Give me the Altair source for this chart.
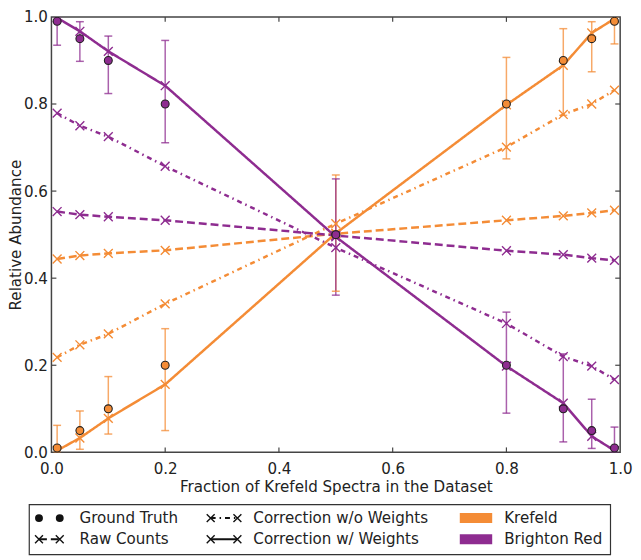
import altair as alt
import pandas as pd

# ---------------- data ----------------
fractions = [0.01, 0.05, 0.10, 0.20, 0.50, 0.80, 0.90, 0.95, 0.99]

truth_krefeld = [0.01, 0.05, 0.10, 0.20, 0.50, 0.80, 0.90, 0.95, 0.99]
truth_brighton = [0.99, 0.95, 0.90, 0.80, 0.50, 0.20, 0.10, 0.05, 0.01]

raw_krefeld = [0.444, 0.452, 0.457, 0.464, 0.502, 0.533, 0.543, 0.550, 0.556]
raw_brighton = [0.553, 0.546, 0.541, 0.533, 0.498, 0.463, 0.454, 0.446, 0.441]

noweight_krefeld = [0.218, 0.247, 0.272, 0.341, 0.525, 0.701, 0.776, 0.800, 0.832]
noweight_brighton = [0.779, 0.750, 0.725, 0.657, 0.470, 0.296, 0.220, 0.198, 0.167]

weight_krefeld = [0.004, 0.033, 0.078, 0.156, 0.503, 0.798, 0.889, 0.963, 0.996]
weight_brighton = [0.998, 0.967, 0.921, 0.842, 0.495, 0.198, 0.113, 0.037, 0.004]

err_low_krefeld = [0.000, 0.007, 0.042, 0.050, 0.370, 0.674, 0.774, 0.874, 0.938]
err_high_krefeld = [0.062, 0.095, 0.174, 0.284, 0.637, 0.907, 0.973, 0.989, 1.000]
err_low_brighton = [0.935, 0.898, 0.824, 0.711, 0.361, 0.090, 0.024, 0.009, 0.000]
err_high_brighton = [1.000, 0.989, 0.956, 0.946, 0.628, 0.322, 0.226, 0.122, 0.058]

tick_values = [0.0, 0.2, 0.4, 0.6, 0.8, 1.0]

sources = ["Krefeld", "Brighton Red"]
methods = ["Raw Counts", "Correction w/o Weights", "Correction w/ Weights"]

# ---------------- styles ----------------
colors = ["#F48C36", "#8E2C90"]
dashes = [[8, 4], [5, 4, 1.5, 4], [1, 0]]
FONT = "DejaVu Sans"
FS = 15.3
XSHAPE = "M-1,-1L1,1M-1,1L1,-1"

# ---------------- tables ----------------
series = {
    ("Krefeld", "Raw Counts"): raw_krefeld,
    ("Brighton Red", "Raw Counts"): raw_brighton,
    ("Krefeld", "Correction w/o Weights"): noweight_krefeld,
    ("Brighton Red", "Correction w/o Weights"): noweight_brighton,
    ("Krefeld", "Correction w/ Weights"): weight_krefeld,
    ("Brighton Red", "Correction w/ Weights"): weight_brighton,
}
rows = []
for (src, meth), vals in series.items():
    for f, v in zip(fractions, vals):
        rows.append({"x": f, "y": v, "source": src, "method": meth})
lines_df = pd.DataFrame(rows)

truth_df = pd.DataFrame(
    [{"x": f, "y": v, "source": "Krefeld"} for f, v in zip(fractions, truth_krefeld)]
    + [{"x": f, "y": v, "source": "Brighton Red"} for f, v in zip(fractions, truth_brighton)]
)

err_rows = []
for src, lo, hi in [("Krefeld", err_low_krefeld, err_high_krefeld),
                    ("Brighton Red", err_low_brighton, err_high_brighton)]:
    for f, a, b in zip(fractions, lo, hi):
        err_rows.append({"x": f, "lo": a, "hi": b, "source": src})
err_df = pd.DataFrame(err_rows)
caps_df = pd.concat([
    err_df.rename(columns={"lo": "y"})[["x", "y", "source"]],
    err_df.rename(columns={"hi": "y"})[["x", "y", "source"]],
])

inner = tick_values[1:-1]
ticks_bottom = pd.DataFrame({"x": inner, "y": [0.0] * len(inner)})
ticks_top = pd.DataFrame({"x": inner, "y": [1.0] * len(inner)})
ticks_left = pd.DataFrame({"x": [0.0] * len(inner), "y": inner})
ticks_right = pd.DataFrame({"x": [1.0] * len(inner), "y": inner})

# ---------------- encodings ----------------
xs = alt.Scale(domain=[0, 1], nice=False, zero=False)
ys = alt.Scale(domain=[0, 1], nice=False, zero=False)
x_axis = alt.Axis(values=tick_values, format=".1f", ticks=False, domain=False, grid=False,
                  labelFlush=False, labelOverlap=False, labelPadding=9, titlePadding=3)
y_axis = alt.Axis(values=tick_values, format=".1f", ticks=False, domain=False, grid=False,
                  labelFlush=False, labelOverlap=False, labelPadding=4, titlePadding=0)
XT = "Fraction of Krefeld Spectra in the Dataset"
YT = "Relative Abundance"


def X(field="x"):
    return alt.X(f"{field}:Q", scale=xs, axis=x_axis, title=XT)


def Y(field="y"):
    return alt.Y(f"{field}:Q", scale=ys, axis=y_axis, title=YT)


color = alt.Color("source:N", scale=alt.Scale(domain=sources, range=colors), legend=None)
fill = alt.Fill("source:N", scale=alt.Scale(domain=sources, range=colors), legend=None)
dash = alt.StrokeDash("method:N", scale=alt.Scale(domain=methods, range=dashes), legend=None)

errbars = alt.Chart(err_df).mark_rule(strokeWidth=1.5, opacity=0.75, clip=True).encode(
    x=X(), y=Y("lo"), y2="hi:Q", color=color)
caps = alt.Chart(caps_df).mark_point(shape="M-1,0L1,0", size=64, filled=False, strokeWidth=1.5,
                                     opacity=0.75, clip=True).encode(x=X(), y=Y(), color=color)
lines = alt.Chart(lines_df).mark_line(strokeWidth=2.5, clip=True).encode(
    x=X(), y=Y(), color=color, strokeDash=dash)
xmarks = alt.Chart(lines_df).mark_point(shape=XSHAPE, size=80, filled=False, strokeWidth=1.4,
                                        opacity=1, clip=True).encode(x=X(), y=Y(), color=color)
truth = alt.Chart(truth_df).mark_point(shape="circle", size=64, filled=True, opacity=1,
                                       stroke="#222222", strokeWidth=1.1, clip=True).encode(
    x=X(), y=Y(), fill=fill)

TICKC = "#444444"
tick_layers = [
    alt.Chart(ticks_bottom).mark_point(shape="M0,0L0,-2", size=25, filled=False, stroke=TICKC,
                                       strokeWidth=1.2, opacity=1).encode(x=X(), y=Y()),
    alt.Chart(ticks_top).mark_point(shape="M0,0L0,2", size=25, filled=False, stroke=TICKC,
                                    strokeWidth=1.2, opacity=1).encode(x=X(), y=Y()),
    alt.Chart(ticks_left).mark_point(shape="M0,0L2,0", size=25, filled=False, stroke=TICKC,
                                     strokeWidth=1.2, opacity=1).encode(x=X(), y=Y()),
    alt.Chart(ticks_right).mark_point(shape="M0,0L-2,0", size=25, filled=False, stroke=TICKC,
                                      strokeWidth=1.2, opacity=1).encode(x=X(), y=Y()),
]

# ---------------- legend (below the plot, in axis units) ----------------
row1, row2 = -0.151, -0.1995
c1a, c1b, c1t = -0.0219, 0.0146, 0.0493
c2a, c2b, c2t = 0.280, 0.327, 0.355
c3a, c3b, c3t = 0.718, 0.775, 0.796

legend_box_df = pd.DataFrame({"x": [-0.039], "x2": [0.983], "y": [-0.120], "y2": [-0.235]})
legend_box = alt.Chart(legend_box_df).mark_rect(fill="white", stroke="#333333", strokeWidth=1.2).encode(
    x=X(), x2="x2:Q", y=Y(), y2="y2:Q")

legend_text_df = pd.DataFrame({
    "label": ["Ground Truth", "Raw Counts", "Correction w/o Weights", "Correction w/ Weights",
              "Krefeld", "Brighton Red"],
    "x": [c1t, c1t, c2t, c2t, c3t, c3t],
    "y": [row1, row2, row1, row2, row1, row2],
})
legend_text = alt.Chart(legend_text_df).mark_text(align="left", baseline="middle", font=FONT,
                                                   fontSize=FS, color="#222222").encode(
    x=X(), y=Y(), text="label:N")

legend_dots_df = pd.DataFrame({"x": [c1a, c1b], "y": [row1, row1]})
legend_dots = alt.Chart(legend_dots_df).mark_point(shape="circle", size=64, filled=True, opacity=1,
                                                   color="#111111").encode(x=X(), y=Y())

legend_lines_df = pd.DataFrame({
    "x": [c1a, c1b, c2a, c2b, c2a, c2b],
    "y": [row2, row2, row1, row1, row2, row2],
    "method": ["Raw Counts", "Raw Counts", "Correction w/o Weights", "Correction w/o Weights",
               "Correction w/ Weights", "Correction w/ Weights"],
})
legend_lines = alt.Chart(legend_lines_df).mark_line(strokeWidth=2.0, color="#111111").encode(
    x=X(), y=Y(), strokeDash=dash, detail="method:N")
legend_x = alt.Chart(legend_lines_df).mark_point(shape=XSHAPE, size=64, filled=False, strokeWidth=1.4,
                                                 opacity=1, color="#111111").encode(x=X(), y=Y())

legend_sw_df = pd.DataFrame({"source": sources, "x": [c3a, c3a], "x2": [c3b, c3b],
                             "y": [row1 + 0.0115, row2 + 0.0115], "y2": [row1 - 0.0115, row2 - 0.0115]})
legend_sw = alt.Chart(legend_sw_df).mark_rect().encode(x=X(), x2="x2:Q", y=Y(), y2="y2:Q", fill=fill)

chart = alt.layer(
    errbars, caps, lines, xmarks, truth, *tick_layers,
    legend_box, legend_lines, legend_x, legend_dots, legend_sw, legend_text,
).properties(
    width=576, height=441,
    padding={"left": 0, "top": -1.5, "right": 0, "bottom": 0},
).configure_axis(
    labelFont=FONT, titleFont=FONT, labelFontSize=FS, titleFontSize=FS,
    labelColor="#222222", titleColor="#222222", titleFontWeight="normal",
).configure_view(stroke="#444444", strokeWidth=1.5)

chart.save("out.html", embed_options={"renderer": "svg", "actions": False})
